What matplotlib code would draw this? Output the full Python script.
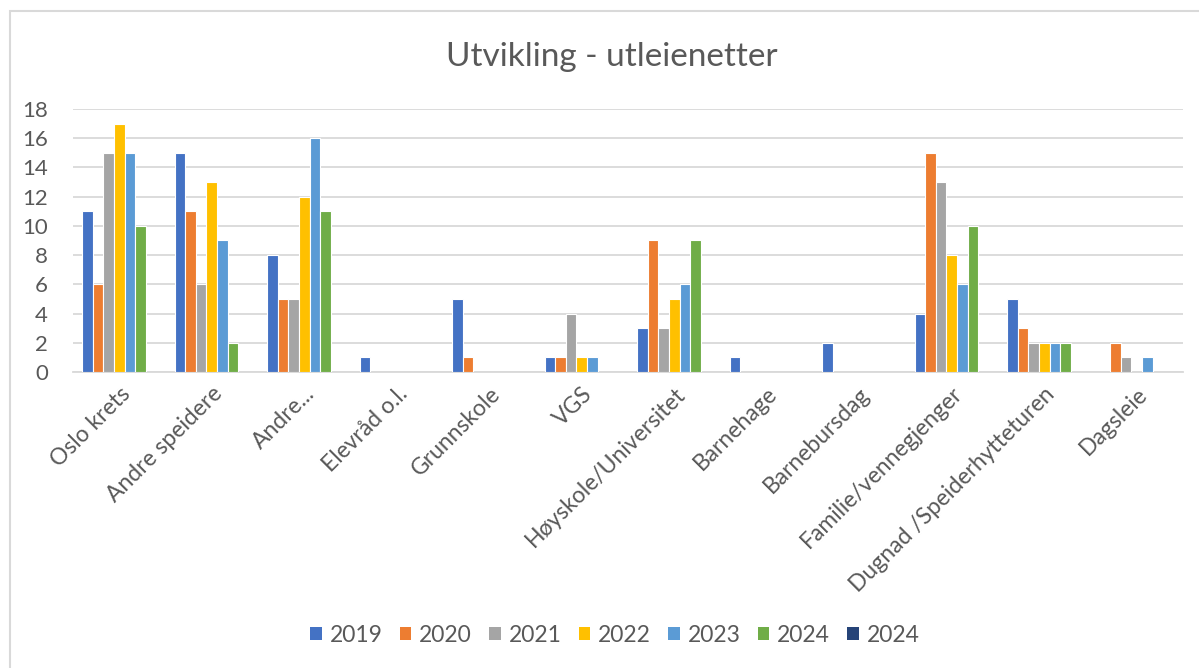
import numpy as np
import matplotlib.pyplot as plt
from matplotlib.patches import Patch, Rectangle

# ---- Data ----
categories = ['Oslo krets', 'Andre speidere', 'Andre...', 'Elevråd o.l.', 'Grunnskole', 'VGS',
              'Høyskole/Universitet', 'Barnehage', 'Barnebursdag', 'Familie/vennegjenger',
              'Dugnad /Speiderhytteturen', 'Dagsleie']
series_names = ['2019', '2020', '2021', '2022', '2023', '2024', '2024']
v2019 = [11, 15, 8, 1, 5, 1, 3, 1, 2, 4, 5, 0]
v2020 = [6, 11, 5, 0, 1, 1, 9, 0, 0, 15, 3, 2]
v2021 = [15, 6, 5, 0, 0, 4, 3, 0, 0, 13, 2, 1]
v2022 = [17, 13, 12, 0, 0, 1, 5, 0, 0, 8, 2, 0]
v2023 = [15, 9, 16, 0, 0, 1, 6, 0, 0, 6, 2, 1]
v2024 = [10, 2, 11, 0, 0, 0, 9, 0, 0, 10, 2, 0]
v2024b = [0, 0, 0, 0, 0, 0, 0, 0, 0, 0, 0, 0]
series_values = [v2019, v2020, v2021, v2022, v2023, v2024, v2024b]
colors = ['#4472C4', '#ED7D31', '#A5A5A5', '#FFC000', '#5B9BD5', '#70AD47', '#264478']

plt.rcParams['font.family'] = ['Lato', 'DejaVu Sans']
text_color = '#595959'

fig = plt.figure(figsize=(11.99, 6.68), dpi=100)
ax = fig.add_axes([73 / 1199, 1 - 372 / 668, (1183 - 73) / 1199, (372 - 109) / 668])

# chart border
fig.patches.append(Rectangle((10 / 1199, -0.1), 1.0, 1.1 - 11 / 668, transform=fig.transFigure,
                             fill=False, edgecolor='#d9d9d9', linewidth=1.5))

n = len(series_values)
x = np.arange(len(categories))
slot = 0.795 / n
for i, (vals, col) in enumerate(zip(series_values, colors)):
    vals = np.array(vals, dtype=float)
    mask = vals > 0
    pos = x - 0.795 / 2 + slot * (i + 0.5)
    ax.bar(pos[mask], vals[mask], width=slot, color=col, edgecolor='white', linewidth=0.8, zorder=3)

ax.set_xlim(-0.5, len(categories) - 0.5)
ax.set_ylim(0, 18)
ax.set_yticks(range(0, 19, 2))
ax.yaxis.grid(True, color='#d9d9d9', linewidth=1.3, zorder=0)
for s in ['top', 'right', 'left']:
    ax.spines[s].set_visible(False)
ax.spines['bottom'].set_color('#d9d9d9')
ax.spines['bottom'].set_linewidth(1.3)
ax.tick_params(axis='y', length=0, pad=18, labelsize=16, labelcolor=text_color)
ax.tick_params(axis='x', length=0, pad=8, labelsize=16.5, labelcolor=text_color)
ax.set_xticks(x)
ax.set_xticklabels(categories, rotation=45, ha='right', rotation_mode='anchor')

fig.text(612 / 1199, 1 - 57 / 668, 'Utvikling - utleienetter', ha='center', va='center',
         fontsize=24, color=text_color)

handles = [Patch(facecolor=c, label=nm) for c, nm in zip(colors, series_names)]
fig.legend(handles=handles, loc='center', bbox_to_anchor=(615 / 1199, 1 - 635 / 668), ncol=7,
           frameon=False, fontsize=16.5, labelcolor=text_color, handlelength=0.5, handleheight=0.5,
           handletextpad=0.35, columnspacing=0.75)

fig.savefig('out.png', dpi=100)
